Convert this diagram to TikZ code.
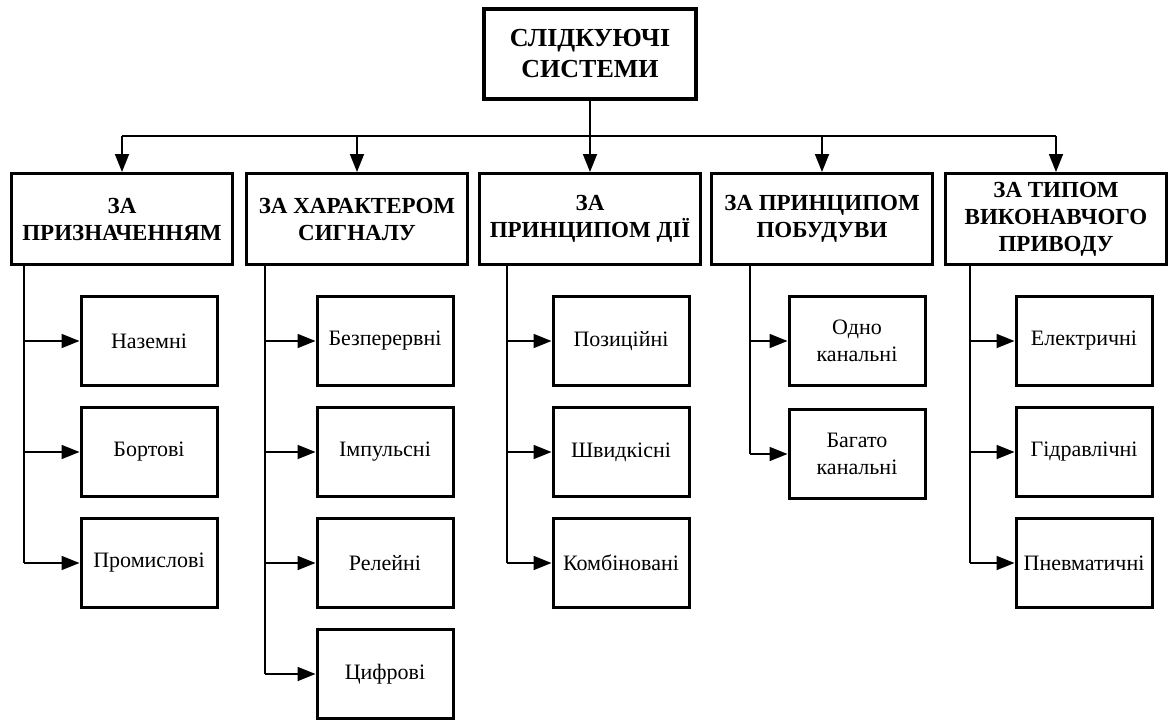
\documentclass[tikz,border=0pt]{standalone}
\usepackage{fontspec}
\setmainfont{Liberation Serif}
\usetikzlibrary{arrows.meta}

\tikzset{
  rootbox/.style={draw, line width=3.5pt, align=center, font=\bfseries\fontsize{26}{31}\selectfont,
                  minimum width=212pt, minimum height=90pt, inner sep=0pt},
  catbox/.style={draw, line width=3pt, align=center, font=\bfseries\fontsize{23}{27}\selectfont,
                 minimum width=221pt, minimum height=91pt, inner sep=0pt},
  itembox/.style={draw, line width=3pt, align=center, font=\fontsize{22}{27}\selectfont,
                  minimum width=136pt, minimum height=89pt, inner sep=0pt},
  link/.style={line width=1.8pt},
  arr/.style={link, -{Triangle[length=18pt,width=14pt]}}
}

\begin{document}
\begin{tikzpicture}[x=1pt, y=-1pt]
  \useasboundingbox (0,0) rectangle (1168,720);

  \node[rootbox] (root) at (590,54) {СЛІДКУЮЧІ\\СИСТЕМИ};

  \node[catbox] (cat1) at (122,219) {ЗА\\ПРИЗНАЧЕННЯМ};
  \node[catbox] (cat2) at (357,219) {ЗА ХАРАКТЕРОМ\\СИГНАЛУ};
  \node[catbox] (cat3) at (590,219) {ЗА\\ПРИНЦИПОМ ДІЇ};
  \node[catbox] (cat4) at (822,219) {ЗА ПРИНЦИПОМ\\ПОБУДУВИ};
  \node[catbox] (cat5) at (1056,219) {ЗА ТИПОМ\\ВИКОНАВЧОГО\\ПРИВОДУ};

  % bus from the root
  \coordinate (bus) at (590,136);
  \draw[link] (root.south) -- (bus);
  \draw[link] (bus -| cat1.north) -- (bus -| cat5.north);
  \foreach \c in {cat1,cat2,cat3,cat4,cat5}
    \draw[arr] (bus -| \c.north) -- (\c.north);

  % group 1
  \node[itembox] (nazemni)    at (149,341) {Наземні};
  \node[itembox] (bortovi)    at (149,452) {Бортові};
  \node[itembox] (promyslovi) at (149,563) {Промислові};

  % group 2
  \node[itembox] (bezperervni) at (385,341) {Безперервні};
  \node[itembox] (impulsni)    at (385,452) {Імпульсні};
  \node[itembox] (releini)     at (385,563) {Релейні};
  \node[itembox] (tsyfrovi)    at (385,674) {Цифрові};

  % group 3
  \node[itembox] (pozytsiini)  at (621,341) {Позиційні};
  \node[itembox] (shvydkisni)  at (621,452) {Швидкісні};
  \node[itembox] (kombinovani) at (621,563) {Комбіновані};

  % group 4
  \node[itembox] (odno)   at (857,341) {Одно\\канальні};
  \node[itembox] (bahato) at (857,454) {Багато\\канальні};

  % group 5
  \node[itembox] (elektrychni)  at (1084,341) {Електричні};
  \node[itembox] (hidravlichni) at (1084,452) {Гідравлічні};
  \node[itembox] (pnevmatychni) at (1084,563) {Пневматичні};

  % stems
  \coordinate (s1) at (24,0);
  \coordinate (s2) at (265,0);
  \coordinate (s3) at (507,0);
  \coordinate (s4) at (750,0);
  \coordinate (s5) at (970,0);

  \draw[link] (s1 |- cat1.south) -- (s1 |- promyslovi.west);
  \draw[link] (s2 |- cat2.south) -- (s2 |- tsyfrovi.west);
  \draw[link] (s3 |- cat3.south) -- (s3 |- kombinovani.west);
  \draw[link] (s4 |- cat4.south) -- (s4 |- bahato.west);
  \draw[link] (s5 |- cat5.south) -- (s5 |- pnevmatychni.west);

  \foreach \s/\n in {s1/nazemni, s1/bortovi, s1/promyslovi,
                     s2/bezperervni, s2/impulsni, s2/releini, s2/tsyfrovi,
                     s3/pozytsiini, s3/shvydkisni, s3/kombinovani,
                     s4/odno, s4/bahato,
                     s5/elektrychni, s5/hidravlichni, s5/pnevmatychni}
    \draw[arr] (\s |- \n.west) -- (\n.west);
\end{tikzpicture}
\end{document}
